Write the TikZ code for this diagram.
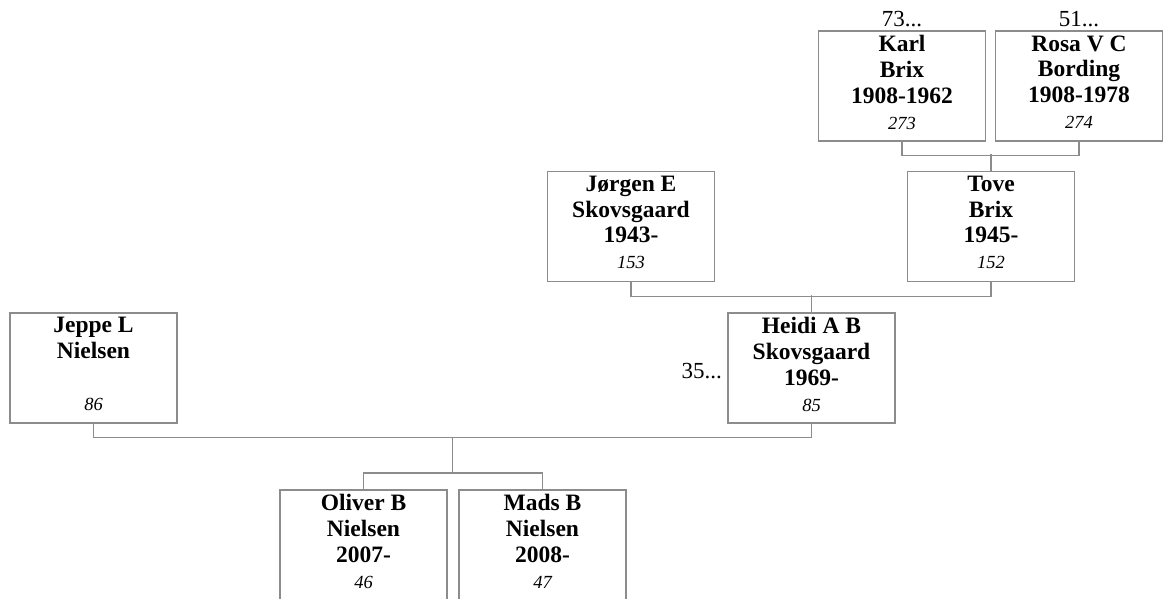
\documentclass[tikz,border=0pt]{standalone}
\usepackage{fontspec}
\setmainfont{Liberation Serif}
\usetikzlibrary{positioning}
\newcommand{\persnum}[1]{{\fontsize{18.5pt}{25.7pt}\selectfont\mdseries\itshape #1}}

\begin{document}
\begin{tikzpicture}[line join=miter,
  pbox/.style={draw={rgb,255:red,140;green,140;blue,140}, line width=1.2pt, minimum width=167pt, minimum height=110pt, inner sep=0pt},
  ptext/.style={align=center, inner sep=0pt, font=\fontsize{23.5pt}{25.7pt}\selectfont\bfseries},
  more/.style={inner sep=0pt, font=\fontsize{23pt}{25pt}\selectfont},
  link/.style={draw={rgb,255:red,140;green,140;blue,140}, line width=1.2pt}]
  \useasboundingbox (0pt,0pt) rectangle (1166pt,-598pt);
  % boxes
  \draw (902.0pt, -86.0pt)node[pbox](karl){};
  \draw (1079.0pt, -86.0pt)node[pbox](rosa){};
  \draw (631.0pt, -226.5pt)node[pbox](jorgen){};
  \draw (991.0pt, -226.5pt)node[pbox](tove){};
  \draw (93.5pt, -368.0pt)node[pbox](jeppe){};
  \draw (811.5pt, -368.0pt)node[pbox](heidi){};
  \draw (363.5pt, -545.0pt)node[pbox](oliver){};
  \draw (542.5pt, -545.0pt)node[pbox](mads){};
  % texts
  \node[ptext, below=5pt of karl.north](karlt){Karl\\Brix\\1908-1962\\\persnum{273}};
  \node[ptext, below=5pt of rosa.north](rosat){Rosa V C\\Bording\\1908-1978\\\persnum{274}};
  \node[ptext, below=5pt of jorgen.north](jorgent){Jørgen E\\Skovsgaard\\1943-\\\persnum{153}};
  \node[ptext, below=5pt of tove.north](tovet){Tove\\Brix\\1945-\\\persnum{152}};
  \node[ptext, below=5pt of jeppe.north](jeppet){Jeppe L\\Nielsen\\\mbox{}\\\persnum{86}};
  \node[ptext, below=5pt of heidi.north](heidit){Heidi A B\\Skovsgaard\\1969-\\\persnum{85}};
  \node[ptext, below=5pt of oliver.north](olivert){Oliver B\\Nielsen\\2007-\\\persnum{46}};
  \node[ptext, below=5pt of mads.north](madst){Mads B\\Nielsen\\2008-\\\persnum{47}};
  % more ancestors
  \node[more, anchor=base](karlm) at (902pt, -26pt){73...};
  \node[more, anchor=base](rosam) at (1079pt, -26pt){51...};
  \node[more, anchor=base east](heidim) at (722pt, -378pt){35...};
  % links
  \draw[link] (karl.south) -- ++(0,-14pt) -| (rosa.south);
  \draw[link] (tove.north) -- ++(0,17pt);
  \draw[link] (jorgen.south) -- ++(0,-14.5pt) -| (tove.south);
  \draw[link] (heidi.north) -- ++(0,17pt);
  \draw[link] (jeppe.south) -- ++(0,-14pt) -| (heidi.south);
  \coordinate (kids) at (452.5pt, -473pt);
  \draw[link] (kids) -- ++(0,36pt);
  \draw[link] (oliver.north) |- (kids) -| (mads.north);
\end{tikzpicture}
\end{document}
